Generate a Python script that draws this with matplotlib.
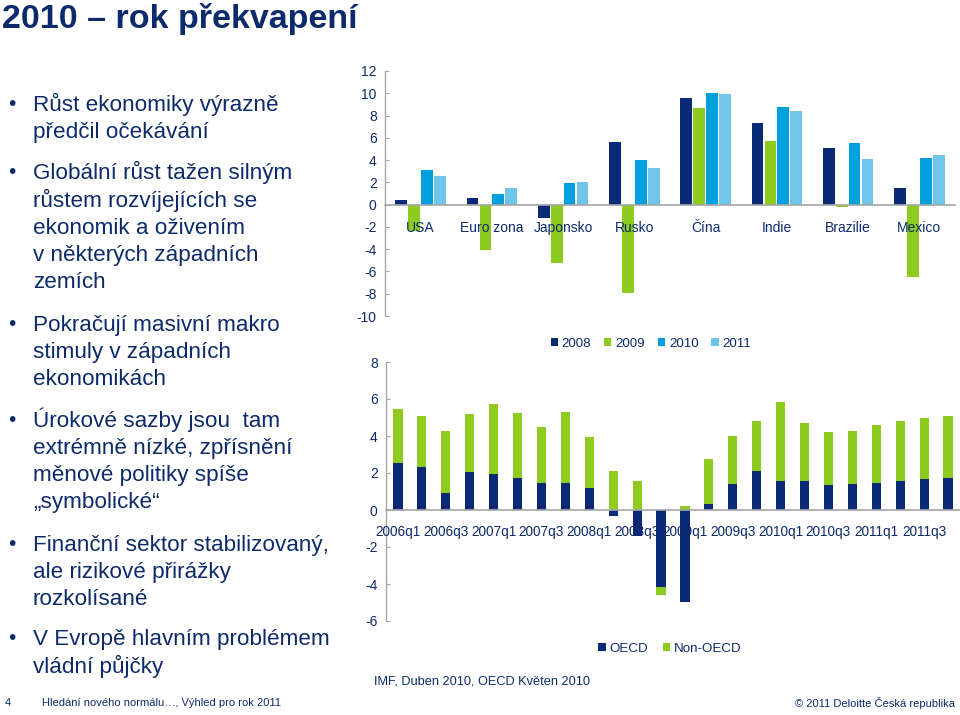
import matplotlib
matplotlib.use("Agg")
import matplotlib.pyplot as plt
import numpy as np

# ---------------- data ----------------
countries = ["USA", "Euro zona", "Japonsko", "Rusko", "Čína", "Indie", "Brazilie", "Mexico"]
years = ["2008", "2009", "2010", "2011"]
g2008 = [0.4, 0.6, -1.2, 5.6, 9.6, 7.3, 5.1, 1.5]
g2009 = [-2.4, -4.1, -5.2, -7.9, 8.7, 5.7, -0.2, -6.5]
g2010 = [3.1, 1.0, 1.9, 4.0, 10.0, 8.8, 5.5, 4.2]
g2011 = [2.6, 1.5, 2.0, 3.3, 9.9, 8.4, 4.1, 4.5]

quarters = [f"{y}q{q}" for y in range(2006, 2012) for q in range(1, 5)]
oecd = [2.54, 2.32, 0.93, 2.05, 1.96, 1.73, 1.46, 1.48, 1.21, -0.32, -1.38, -4.16,
        -4.95, 0.32, 1.38, 2.09, 1.57, 1.59, 1.36, 1.41, 1.48, 1.59, 1.66, 1.73]
non_oecd = [2.94, 2.77, 3.36, 3.16, 3.79, 3.52, 3.00, 3.82, 2.72, 2.13, 1.59, -0.45,
            0.21, 2.45, 2.62, 2.70, 4.29, 3.12, 2.84, 2.88, 3.13, 3.23, 3.30, 3.36]

title = "2010 – rok překvapení"
bullets = [
    ["Růst ekonomiky výrazně", "předčil očekávání"],
    ["Globální růst tažen silným", "růstem rozvíjejících se", "ekonomik a oživením",
     "v některých západních", "zemích"],
    ["Pokračují masivní makro", "stimuly v západních", "ekonomikách"],
    ["Úrokové sazby jsou  tam", "extrémně nízké, zpřísnění", "měnové politiky spíše",
     "„symbolické“"],
    ["Finanční sektor stabilizovaný,", "ale rizikové přirážky", "rozkolísané"],
    ["V Evropě hlavním problémem", "vládní půjčky"],
]
source = "IMF, Duben 2010, OECD Květen 2010"
footer_left = "Hledání nového normálu…, Výhled pro rok 2011"
footer_right = "© 2011 Deloitte Česká republika"
page = "4"

# ---------------- style ----------------
plt.rcParams['font.family'] = ['Liberation Sans', 'DejaVu Sans']
plt.rcParams['axes.unicode_minus'] = False
NAVY = "#0A2A78"
GREEN = "#8DCB1E"
BLUE = "#009FDD"
LIGHT = "#70C6EA"
TXT = "#0D2B6B"
AXC = "#A6A6A6"
FS = 10

W, H = 960, 715
fig = plt.figure(figsize=(W / 100, H / 100), dpi=100)


def fx(px):
    return px / W


def fy(py):
    return 1 - py / H


# title
fig.text(fx(2), fy(28), title, fontsize=24.5, fontweight='bold', color=TXT,
         ha='left', va='baseline')

# bullets
para_starts = [104, 173, 324, 420, 544, 639]
for start, lines in zip(para_starts, bullets):
    fig.text(fx(8), fy(start), "•", fontsize=15, color=TXT, ha='left', va='center')
    for i, line in enumerate(lines):
        fig.text(fx(33), fy(start + 27.2 * i + 6.5), line, fontsize=16.2, color=TXT,
                 ha='left', va='baseline')


def style_axes(ax, xpad):
    for s in ['top', 'right']:
        ax.spines[s].set_visible(False)
    ax.spines['left'].set_color(AXC)
    ax.spines['bottom'].set_color(AXC)
    ax.spines['bottom'].set_position(('data', 0))
    ax.spines['left'].set_linewidth(1.0)
    ax.spines['bottom'].set_linewidth(1.2)
    ax.tick_params(axis='y', direction='in', length=3, color=AXC, labelcolor=TXT,
                   labelsize=FS, pad=6)
    ax.tick_params(axis='x', length=0, labelcolor=TXT, labelsize=FS, pad=xpad)
    ax.set_facecolor('none')
    ax.xaxis.set_zorder(5)
    ax.spines['bottom'].set_zorder(3)


# ---------------- top chart ----------------
ax1 = fig.add_axes([fx(385), fy(316), fx(955) - fx(385), fy(71) - fy(316)])
series = [g2008, g2009, g2010, g2011]
colors = [NAVY, GREEN, BLUE, LIGHT]
x = np.arange(len(countries))
pitch, bw = 0.182, 0.165
for i, (vals, c, lab) in enumerate(zip(series, colors, years)):
    ax1.bar(x + (i - 1.5) * pitch, vals, width=bw, color=c, label=lab, zorder=2)
ax1.set_xlim(-0.5, len(countries) - 0.5)
ax1.set_ylim(-10, 12)
ax1.set_yticks(np.arange(-10, 13, 2))
ax1.set_xticks(x)
ax1.set_xticklabels(countries)
style_axes(ax1, 11.5)
h, l = ax1.get_legend_handles_labels()
fig.legend(h, l, loc='center', bbox_to_anchor=(fx(651), fy(344)), ncol=4,
           frameon=False, fontsize=9.6, handlelength=0.55, handleheight=0.55,
           handletextpad=0.3, columnspacing=0.95, labelcolor=TXT)

# ---------------- bottom chart ----------------
ax2 = fig.add_axes([fx(386), fy(621), fx(960) - fx(386), fy(362) - fy(621)])
xq = np.arange(len(quarters))
o = np.array(oecd)
n = np.array(non_oecd)
n_bottom = np.where(n >= 0, np.maximum(o, 0), np.minimum(o, 0))
ax2.bar(xq, o, width=0.38, color=NAVY, label="OECD", zorder=2)
ax2.bar(xq, n, bottom=n_bottom, width=0.38, color=GREEN, label="Non-OECD", zorder=2)
ax2.set_xlim(-0.5, len(quarters) - 0.5)
ax2.set_ylim(-6, 8)
ax2.set_yticks(np.arange(-6, 9, 2))
ax2.set_xticks(xq[::2])
ax2.set_xticklabels(quarters[::2])
style_axes(ax2, 10.5)
ax2.tick_params(axis='x', labelsize=9.8)
h2, l2 = ax2.get_legend_handles_labels()
fig.legend(h2, l2, loc='center', bbox_to_anchor=(fx(670), fy(649)), ncol=2,
           frameon=False, fontsize=9.6, handlelength=0.55, handleheight=0.55,
           handletextpad=0.3, columnspacing=1.1, labelcolor=TXT)

# source and footer
fig.text(fx(374), fy(682), source, fontsize=9.2, color=TXT, ha='left', va='center')
fig.text(fx(5), fy(703), page, fontsize=8, color=TXT, ha='left', va='center')
fig.text(fx(42), fy(703), footer_left, fontsize=8, color=TXT, ha='left', va='center')
fig.text(fx(955), fy(703), footer_right, fontsize=8, color=TXT, ha='right', va='center')

fig.savefig("out.png", dpi=100)
